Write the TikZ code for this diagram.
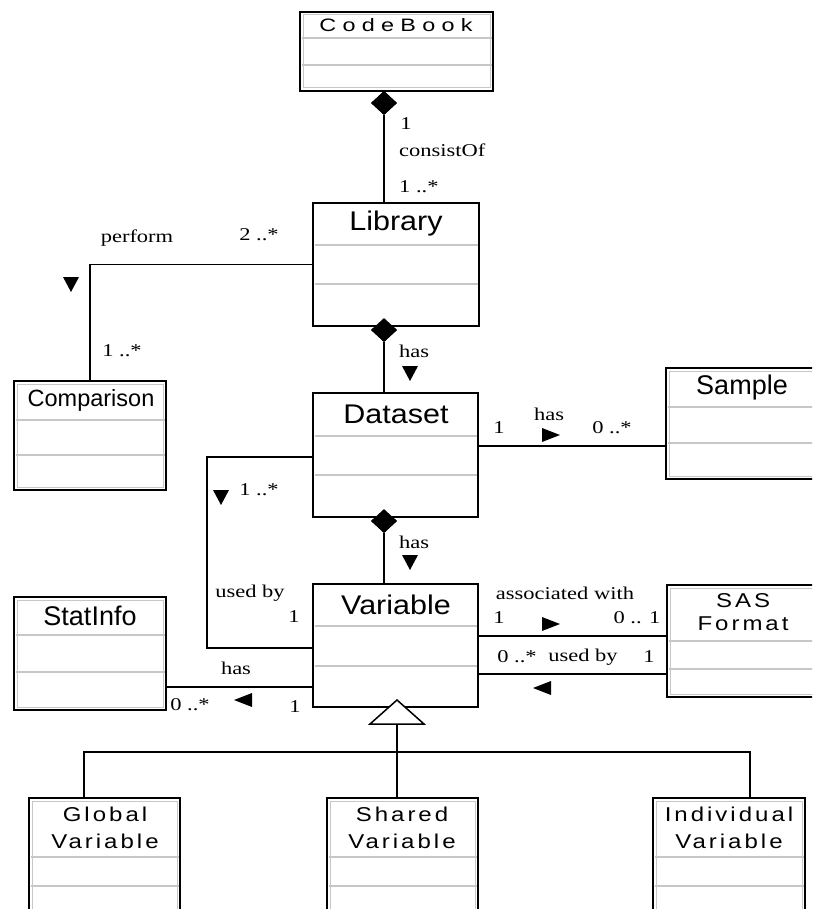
\documentclass[tikz,border=0pt]{standalone}
\usepackage{fontspec}
\setmainfont{Liberation Serif}
\newfontfamily\clsfont{Liberation Sans}
\newfontfamily\clswfont[FakeStretch=1.13]{Liberation Sans}
\newfontfamily\pixfont[FakeStretch=1.2,LetterSpace=15]{Liberation Sans}
\newfontfamily\cbfont[FakeStretch=1.3,LetterSpace=35]{Liberation Sans}
\newfontfamily\lblfont[FakeStretch=1.25]{Liberation Serif}
\usetikzlibrary{shapes.geometric}

\tikzset{
 box/.style={draw=black, line width=1.6pt, fill=white, inner sep=0pt, outer sep=0pt, rectangle},
 sepline/.style={draw=black!22, line width=1.4pt},
 innerline/.style={draw=black!22, line width=1pt},
 conn/.style={draw=black, line width=1.5pt},
 comp/.style={diamond, fill=black, inner sep=0pt, minimum width=26pt, minimum height=24pt},
 ttl/.style={font=\clsfont\fontsize{27}{30}\selectfont, inner sep=0pt},
 ttlw/.style={font=\clswfont\fontsize{27}{30}\selectfont, inner sep=0pt},
 cbt/.style={font=\cbfont\fontsize{18}{20}\selectfont, inner sep=0pt},
 pix/.style={font=\pixfont\fontsize{20}{27}\selectfont, inner sep=0pt, align=center},
 lbl/.style={font=\lblfont\fontsize{18}{20}\selectfont, inner sep=0pt},
}

\newcommand\umlbox[8]{%
 \node[box, minimum width={#4-#2}, minimum height={#5-#3}] (#1) at ({(#2+#4)/2},{(#3+#5)/2}) {};
 \ifnum#8=1 \draw[innerline] (#2+3,#3+3) rectangle (#4-3,#5-3);\fi
 \draw[sepline] (#2+1.5,#6) -- (#4-1.5,#6);
 \draw[sepline] (#2+1.5,#7) -- (#4-1.5,#7);
}
\newcommand\tdown[2]{\fill (#1-8,#2-7) -- (#1+8,#2-7) -- (#1,#2+8) -- cycle;}
\newcommand\tright[2]{\fill (#1-9,#2-7) -- (#1-9,#2+7) -- (#1+9,#2) -- cycle;}
\newcommand\tleft[2]{\fill (#1+9,#2-7) -- (#1+9,#2+7) -- (#1-9,#2) -- cycle;}

\begin{document}
\begin{tikzpicture}[x=1pt,y=-1pt]
\useasboundingbox (0,0) rectangle (812,909);
\clip (0,0) rectangle (812,909);
\fill[white] (0,0) rectangle (812,909);

\node[comp] (d1) at (384,103) {};
\node[comp] (d2) at (384,330) {};
\node[comp] (d3) at (384,521) {};

% boxes
\umlbox{cb}{300}{12}{493}{91}{38}{65}{1}
\umlbox{lib}{313}{203}{479}{326}{245}{284}{0}
\umlbox{cmp}{14}{381}{166}{490}{420}{455}{1}
\umlbox{ds}{313}{393}{478}{517}{436}{475}{0}
\umlbox{smp}{666}{368}{822}{479}{407}{443}{1}
\umlbox{var}{313}{584}{478}{707}{626}{666}{0}
\umlbox{stat}{14}{597}{166}{710}{635}{672}{1}
\umlbox{sas}{667}{585}{822}{697}{641}{669}{1}
\umlbox{glb}{29}{798}{180}{925}{857}{886}{1}
\umlbox{shr}{327}{798}{478}{925}{857}{886}{1}
\umlbox{ind}{653}{798}{805}{925}{857}{886}{1}

% titles
\node[cbt] (cb-t) at (396,25) {CodeBook};
\node[ttlw] (lib-t) at (396,224) {Library};
\node[ttl, font=\clsfont\fontsize{23.5}{26}\selectfont] (cmp-t) at (91,400) {Comparison};
\node[ttlw] (ds-t) at (396,414) {Dataset};
\node[ttl] (smp-t) at (742,388) {Sample};
\node[ttlw] (var-t) at (396,605) {Variable};
\node[ttl] (stat-t) at (90,616) {StatInfo};
\node[pix] (sas-t) at (743,612) {SAS\\[-4pt]Format};
\node[pix] (glb-t) at (105,828) {Global\\Variable};
\node[pix] (shr-t) at (402,828) {Shared\\Variable};
\node[pix] (ind-t) at (729,828) {Individual\\Variable};

% compositions
\draw[conn] (d1.south) -- (d1.south |- lib.north);
\draw[conn] (d1.north) -- (d1.north |- cb.south);
\node[comp] at (d1) {};
\draw[conn] (d2.south) -- (d2.south |- ds.north);
\node[comp] at (d2) {};
\draw[conn] (d3.south) -- (d3.south |- var.north);
\node[comp] at (d3) {};

% perform
\draw[conn] (lib.west) -| (cmp.north);
% dataset - sample
\draw[conn] (ds.east |- 0,446) -- (smp.west |- 0,446);
% used by (dataset-variable)
\coordinate (ub) at (207,0);
\draw[conn] (ds.west |- 0,457) -| (ub |- 0,648) -- (var.west |- 0,648);
% statinfo has
\draw[conn] (var.west |- 0,687) -- (stat.east |- 0,687);
% SAS format
\draw[conn] (var.east |- 0,636) -- (sas.west |- 0,636);
\draw[conn] (var.east |- 0,674) -- (sas.west |- 0,674);

% generalization
\coordinate (gb) at (397,724);
\coordinate (gh) at (397,752);
\draw[conn] (gb) -- (gb |- shr.north);
\draw[conn] (glb.north -| 84,0) |- (gh) -| (ind.north -| 750,0);
\draw[line width=1.5pt, fill=white] (397,700) -- (424,724) -- (370,724) -- cycle;

% labels
\node[lbl] (l1) at (406,124) {1};
\node[lbl, anchor=west] (l2) at (399,150) {consistOf};
\node[lbl, anchor=west] (l3) at (399,187) {1 ..*};
\node[lbl] (l4) at (137,238) {perform};
\node[lbl] (l5) at (259,235) {2 ..*};
\tdown{71}{284}
\node[lbl] (l6) at (122,351) {1 ..*};
\node[lbl] (l7) at (414,351) {has};
\tdown{410}{373}
\node[lbl] (l8) at (499,428) {1};
\node[lbl] (l9) at (549,414) {has};
\tright{551}{435}
\node[lbl] (l10) at (612,428) {0 ..*};
\node[lbl] (l11) at (259,490) {1 ..*};
\tdown{221}{497}
\node[lbl] (l12) at (414,542) {has};
\tdown{410}{562}
\node[lbl] (l13) at (250,593) {used by};
\node[lbl] (l14) at (294,617) {1};
\node[lbl] (l15) at (236,668) {has};
\node[lbl] (l16) at (190,705) {0 ..*};
\tleft{243}{700}
\node[lbl] (l17) at (295,707) {1};
\node[lbl] (l18) at (565,593) {associated with};
\node[lbl] (l19) at (499,618) {1};
\tright{551}{624}
\node[lbl] (l20) at (637,618) {0 .. 1};
\node[lbl] (l21) at (517,657) {0 ..*};
\node[lbl] (l22) at (583,657) {used by};
\node[lbl] (l23) at (649,657) {1};
\tleft{542}{688}
\end{tikzpicture}
\end{document}
